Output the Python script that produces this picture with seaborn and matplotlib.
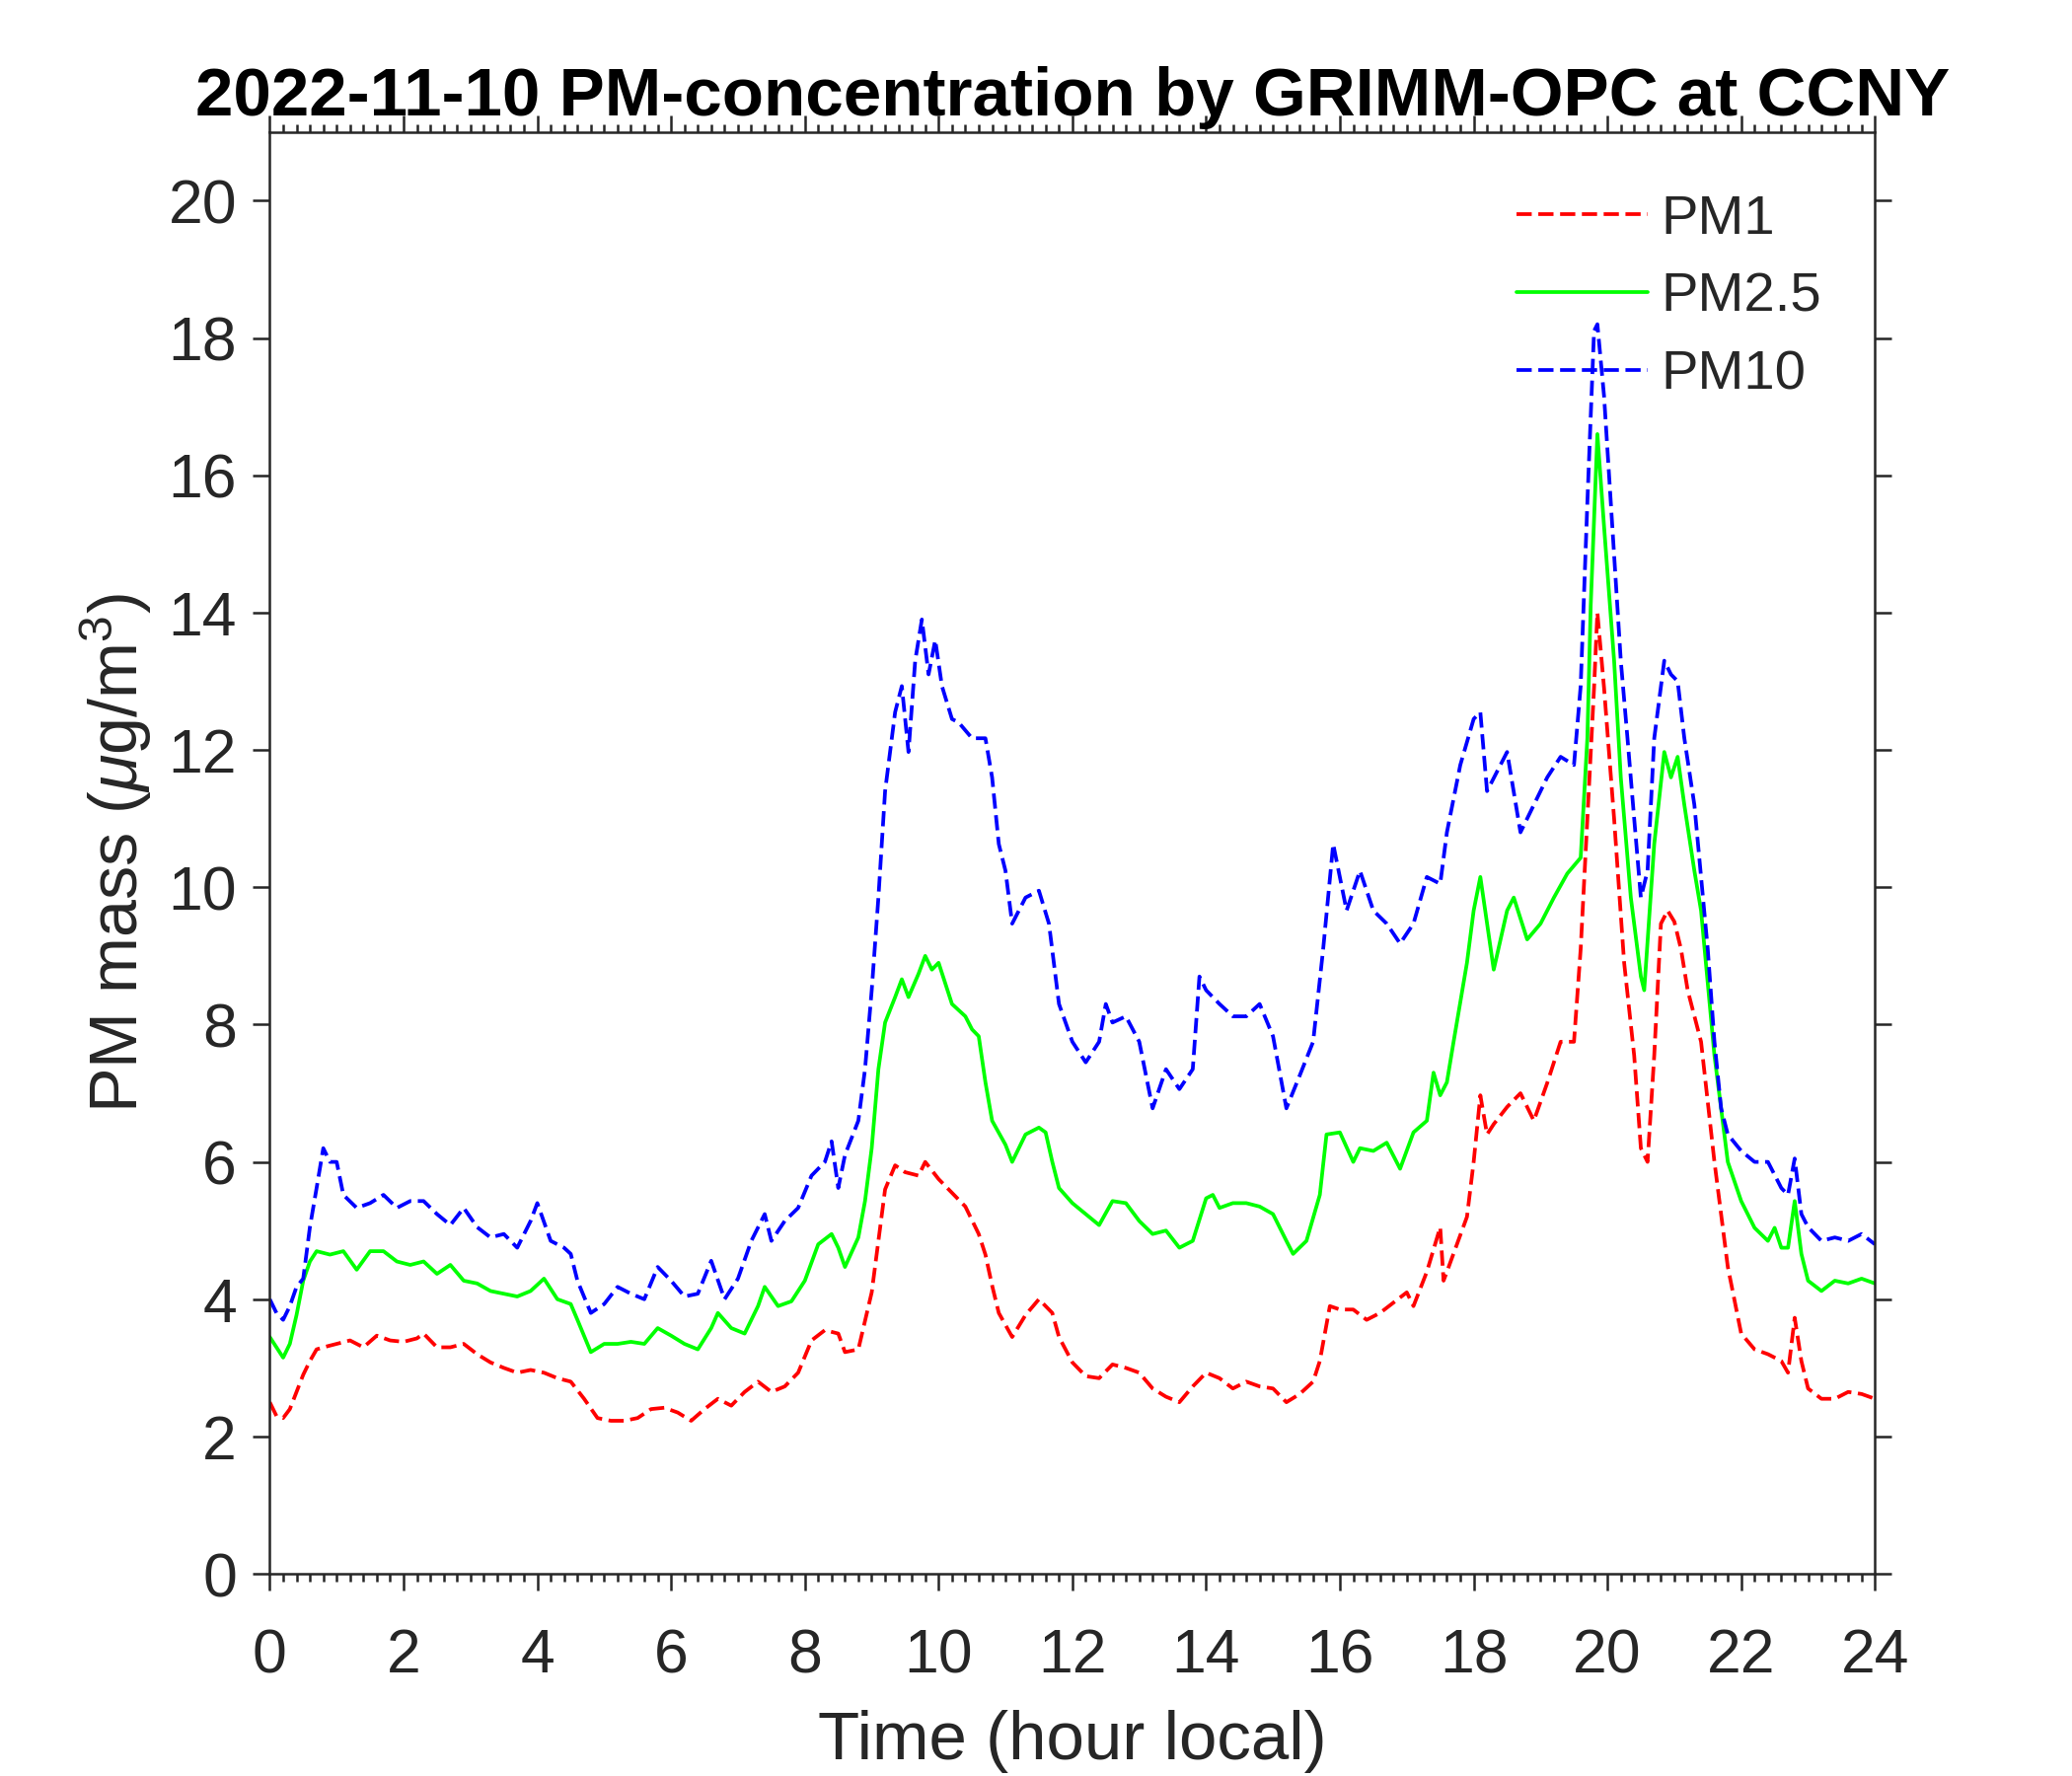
import pandas as pd
import matplotlib
matplotlib.use("Agg")
import matplotlib.pyplot as plt
import seaborn as sns
from matplotlib.ticker import MultipleLocator

# values (hour local, ug/m3)
pm1_hours = [0.0, 0.1, 0.2, 0.3, 0.4, 0.5, 0.6, 0.7, 0.8, 1.0, 1.2, 1.4, 1.6, 1.8, 2.0, 2.2, 2.3,
             2.5, 2.7, 2.9, 3.1, 3.3, 3.5, 3.7, 3.9, 4.1, 4.3, 4.5, 4.7, 4.9, 5.1, 5.3, 5.5, 5.7,
             5.9, 6.1, 6.3, 6.5, 6.7, 6.9, 7.1, 7.3, 7.5, 7.7, 7.9, 8.1, 8.3, 8.5, 8.6, 8.8, 9.0,
             9.1, 9.2, 9.35, 9.5, 9.7, 9.8, 10.0, 10.2, 10.4, 10.6, 10.7, 10.8, 10.9, 11.1, 11.3,
             11.5, 11.7, 11.8, 12.0, 12.2, 12.4, 12.6, 12.8, 13.0, 13.2, 13.4, 13.6, 13.8, 14.0,
             14.2, 14.4, 14.6, 14.8, 15.0, 15.2, 15.4, 15.6, 15.7, 15.85, 16.0, 16.2, 16.4, 16.6,
             16.8, 17.0, 17.1, 17.3, 17.5, 17.55, 17.6, 17.9, 18.0, 18.1, 18.2, 18.3, 18.5, 18.7,
             18.9, 19.1, 19.3, 19.5, 19.6, 19.7, 19.8, 19.85, 19.95, 20.1, 20.25, 20.4, 20.5,
             20.6, 20.7, 20.8, 20.9, 21.0, 21.1, 21.2, 21.4, 21.6, 21.8, 22.0, 22.2, 22.4, 22.6,
             22.7, 22.8, 22.9, 23.0, 23.2, 23.4, 23.6, 23.8, 24.0]
pm1 = [2.5, 2.3, 2.27, 2.4, 2.65, 2.9, 3.1, 3.27, 3.3, 3.35, 3.4, 3.3, 3.47, 3.4, 3.38, 3.43, 3.5,
       3.3, 3.3, 3.35, 3.2, 3.08, 3.0, 2.93, 2.97, 2.93, 2.85, 2.8, 2.55, 2.27, 2.23, 2.23, 2.27, 2.4,
       2.42, 2.35, 2.23, 2.4, 2.55, 2.45, 2.65, 2.8, 2.65, 2.73, 2.93, 3.4, 3.55, 3.5, 3.23, 3.27, 4.1,
       4.85, 5.6, 5.95, 5.85, 5.8, 6.0, 5.75, 5.55, 5.35, 4.95, 4.65, 4.2, 3.8, 3.45, 3.77,
       4.0, 3.8, 3.45, 3.08, 2.88, 2.85, 3.05, 3.0, 2.93, 2.7, 2.58, 2.5, 2.73, 2.93,
       2.85, 2.7, 2.8, 2.73, 2.7, 2.5, 2.62, 2.8, 3.1, 3.9, 3.85, 3.85, 3.7, 3.8,
       3.95, 4.1, 3.9, 4.4, 5.05, 4.27, 4.4, 5.2, 6.0, 6.97, 6.4, 6.55, 6.8, 7.0,
       6.6, 7.15, 7.75, 7.75, 9.1, 11.0, 12.9, 14.0, 12.9, 11.0, 8.9, 7.55, 6.2,
       6.0, 7.55, 9.47, 9.66, 9.5, 9.1, 8.5, 7.75, 6.0, 4.47, 3.5, 3.27, 3.2, 3.1,
       2.93, 3.73, 3.1, 2.7, 2.55, 2.55, 2.65, 2.62, 2.55]

pm25_hours = [0.0, 0.1, 0.2, 0.3, 0.4, 0.5, 0.6, 0.7, 0.9, 1.1, 1.3, 1.5, 1.7, 1.9, 2.1, 2.3, 2.5,
              2.7, 2.9, 3.1, 3.3, 3.5, 3.7, 3.9, 4.1, 4.3, 4.5, 4.6, 4.8, 5.0, 5.2, 5.4, 5.6, 5.8,
              6.0, 6.2, 6.4, 6.6, 6.7, 6.9, 7.1, 7.3, 7.4, 7.6, 7.8, 8.0, 8.2, 8.4, 8.5, 8.6, 8.8,
              8.9, 9.0, 9.1, 9.2, 9.35, 9.45, 9.55, 9.7, 9.8, 9.9, 10.0, 10.2, 10.4, 10.5, 10.6,
              10.7, 10.8, 11.0, 11.1, 11.3, 11.5, 11.6, 11.7, 11.8, 12.0, 12.2, 12.4, 12.6, 12.8,
              13.0, 13.2, 13.4, 13.6, 13.8, 14.0, 14.1, 14.2, 14.4, 14.6, 14.8, 15.0, 15.2, 15.3,
              15.5, 15.7, 15.8, 16.0, 16.2, 16.3, 16.5, 16.7, 16.9, 17.1, 17.3, 17.4, 17.5, 17.6,
              17.7, 17.9, 18.0, 18.1, 18.2, 18.3, 18.5, 18.6, 18.8, 19.0, 19.2, 19.4, 19.6, 19.7,
              19.75, 19.85, 19.95, 20.1, 20.2, 20.35, 20.5, 20.55, 20.7, 20.85, 20.95, 21.05,
              21.15, 21.3, 21.4, 21.6, 21.8, 22.0, 22.2, 22.4, 22.5, 22.6, 22.7, 22.8, 22.9, 23.0,
              23.2, 23.4, 23.6, 23.8, 24.0]
pm25 = [3.45, 3.3, 3.15, 3.35, 3.77, 4.27, 4.55, 4.7, 4.65, 4.7, 4.43, 4.7, 4.7, 4.55, 4.5, 4.55, 4.37,
        4.5, 4.27, 4.23, 4.12, 4.08, 4.04, 4.12, 4.3, 4.0, 3.93, 3.7, 3.23, 3.35, 3.35, 3.38, 3.35, 3.58,
        3.47, 3.35, 3.27, 3.58, 3.8, 3.58, 3.5, 3.9, 4.18, 3.9, 3.97, 4.27, 4.8, 4.95, 4.75, 4.47, 4.9,
        5.43, 6.2, 7.35, 8.03, 8.4, 8.66, 8.4, 8.74, 9.0, 8.8, 8.9, 8.3, 8.12, 7.93, 7.83,
        7.16, 6.6, 6.25, 6.0, 6.4, 6.5, 6.43, 6.0, 5.62, 5.4, 5.24, 5.08, 5.43, 5.4,
        5.14, 4.95, 5.0, 4.75, 4.85, 5.47, 5.52, 5.33, 5.4, 5.4, 5.35, 5.24, 4.85, 4.66,
        4.85, 5.52, 6.4, 6.43, 6.0, 6.2, 6.16, 6.28, 5.9, 6.43, 6.6, 7.3, 6.97, 7.16,
        7.75, 8.9, 9.66, 10.15, 9.47, 8.8, 9.66, 9.85, 9.24, 9.47, 9.85, 10.2, 10.43, 12.17,
        14.1, 16.6, 15.25, 13.3, 11.6, 9.85, 8.7, 8.5, 10.63, 11.97, 11.6, 11.9,
        11.2, 10.24, 9.66, 7.55, 6.0, 5.43, 5.04, 4.85, 5.04, 4.75, 4.75, 5.43, 4.66, 4.27,
        4.12, 4.27, 4.23, 4.3, 4.23]

pm10_hours = [0.0, 0.1, 0.2, 0.3, 0.4, 0.5, 0.6, 0.7, 0.8, 0.9, 1.0, 1.1, 1.3, 1.5, 1.7, 1.9, 2.1,
              2.3, 2.5, 2.7, 2.9, 3.1, 3.3, 3.5, 3.7, 3.9, 4.0, 4.2, 4.4, 4.5, 4.6, 4.8, 5.0, 5.2,
              5.4, 5.6, 5.8, 6.0, 6.2, 6.4, 6.6, 6.8, 7.0, 7.2, 7.4, 7.5, 7.7, 7.9, 8.1, 8.3, 8.4,
              8.5, 8.6, 8.8, 8.9, 9.0, 9.1, 9.2, 9.35, 9.45, 9.55, 9.65, 9.75, 9.85, 9.95, 10.05,
              10.2, 10.3, 10.5, 10.7, 10.8, 10.9, 11.0, 11.1, 11.3, 11.5, 11.65, 11.8, 12.0, 12.2,
              12.4, 12.5, 12.6, 12.8, 13.0, 13.2, 13.4, 13.6, 13.8, 13.9, 14.0, 14.2, 14.4, 14.6,
              14.8, 15.0, 15.2, 15.4, 15.6, 15.75, 15.9, 16.1, 16.3, 16.5, 16.7, 16.9, 17.1, 17.3,
              17.5, 17.6, 17.8, 18.0, 18.1, 18.2, 18.4, 18.5, 18.7, 18.9, 19.1, 19.3, 19.5, 19.6,
              19.7, 19.8, 19.85, 19.95, 20.1, 20.2, 20.3, 20.4, 20.5, 20.6, 20.7, 20.85, 20.95,
              21.05, 21.15, 21.3, 21.5, 21.6, 21.7, 21.8, 22.0, 22.2, 22.4, 22.6, 22.7, 22.8, 22.9,
              23.0, 23.2, 23.4, 23.6, 23.8, 24.0]
pm10 = [4.0, 3.8, 3.7, 3.9, 4.18, 4.3, 5.05, 5.62, 6.2, 6.0, 6.0, 5.52, 5.33, 5.4, 5.52, 5.33, 5.43,
        5.43, 5.24, 5.08, 5.33, 5.05, 4.9, 4.95, 4.75, 5.14, 5.4, 4.85, 4.75, 4.66, 4.27, 3.8, 3.93, 4.18,
        4.08, 4.0, 4.47, 4.27, 4.04, 4.08, 4.56, 4.0, 4.3, 4.85, 5.24, 4.85, 5.14, 5.33, 5.8, 6.0, 6.3,
        5.62, 6.1, 6.6, 7.35, 8.5, 9.85, 11.4, 12.55, 12.93, 11.97, 13.3, 13.9, 13.1, 13.6, 12.93,
        12.45, 12.4, 12.17, 12.17, 11.6, 10.63, 10.24, 9.47, 9.85, 9.95, 9.47, 8.3, 7.75, 7.45,
        7.75, 8.3, 8.03, 8.12, 7.75, 6.78, 7.35, 7.06, 7.35, 8.7, 8.5, 8.3, 8.12, 8.12,
        8.3, 7.83, 6.78, 7.26, 7.75, 9.1, 10.63, 9.66, 10.24, 9.66, 9.47, 9.18, 9.47, 10.15,
        10.05, 10.8, 11.78, 12.45, 12.55, 11.4, 11.78, 11.97, 10.8, 11.2, 11.6, 11.9, 11.78, 12.93,
        15.6, 18.1, 18.2, 17.15, 14.85, 13.3, 12.17, 11.0, 9.85, 10.24, 12.17, 13.3, 13.1,
        13.0, 12.17, 11.2, 9.1, 7.75, 6.78, 6.4, 6.16, 6.0, 6.0, 5.62, 5.52, 6.05, 5.24,
        5.05, 4.85, 4.9, 4.85, 4.95, 4.8]

labels = ["PM1", "PM2.5", "PM10"]
colors = ["#ff0000", "#00ff00", "#0000ff"]
styles = ["--", "-", "--"]

sns.set_style("ticks")
plt.rcParams["font.family"] = ["Liberation Sans", "DejaVu Sans"]
plt.rcParams["mathtext.fontset"] = "custom"
plt.rcParams["mathtext.rm"] = "Liberation Sans"
plt.rcParams["mathtext.it"] = "Liberation Sans:italic"
plt.rcParams["lines.scale_dashes"] = False

fig = plt.figure(figsize=(7, 6), dpi=300)
ax = fig.add_axes([0.1302, 0.1138, 0.7747, 0.8119])

series = [(pm1_hours, pm1), (pm25_hours, pm25), (pm10_hours, pm10)]
for (hrs, vals), lab, col, ls in zip(series, labels, colors, styles):
    df = pd.DataFrame({"hour": hrs, "pm": vals})
    line_kw = dict(linestyle=ls, linewidth=0.9)
    if ls == "--":
        line_kw["dashes"] = (3.2, 2.0)
    sns.lineplot(data=df, x="hour", y="pm", color=col, label=lab, ax=ax, **line_kw)

ax.set_xlim(0, 24)
ax.set_ylim(0, 21)
ax.xaxis.set_major_locator(MultipleLocator(2))
ax.xaxis.set_minor_locator(MultipleLocator(0.2))
ax.yaxis.set_major_locator(MultipleLocator(2))

dark = "#262626"
for side in ["left", "right", "top", "bottom"]:
    ax.spines[side].set_visible(True)
    ax.spines[side].set_linewidth(0.6)
    ax.spines[side].set_color(dark)

ax.tick_params(axis="both", which="major", direction="out", length=4, width=0.6,
               color=dark, labelcolor=dark, labelsize=15, top=True, right=True)
ax.tick_params(axis="x", which="minor", direction="out", length=2, width=0.6,
               color=dark, top=True, bottom=True)
ax.tick_params(axis="x", which="major", pad=9)
ax.tick_params(axis="y", which="major", pad=4)

ax.set_xlabel("Time (hour local)", fontsize=16.6, color=dark, labelpad=6)
ax.set_ylabel("PM mass ($\\mu$g/m$^3$)", fontsize=16.4, color=dark, labelpad=3.5)
ax.set_title("2022-11-10 PM-concentration by GRIMM-OPC at CCNY", fontsize=16.6,
             fontweight="bold", color="black", pad=4)

ax.legend(loc="upper left", bbox_to_anchor=(0.777, 0.957), frameon=False, fontsize=13.5,
          handlelength=2.35, handletextpad=0.25, labelspacing=0.48, borderaxespad=0,
          borderpad=0)

fig.savefig("out.png", dpi=300)
